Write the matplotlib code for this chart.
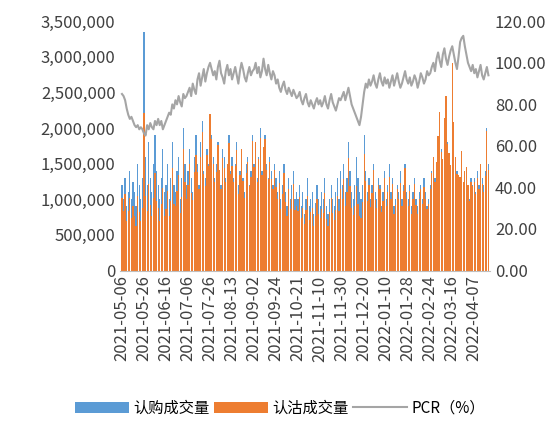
import numpy as np
import matplotlib
matplotlib.use("Agg")
import matplotlib.pyplot as plt
from matplotlib.ticker import FuncFormatter

plt.rcParams['font.family'] = ['Noto Sans CJK SC', 'DejaVu Sans']

tick_labels = ["2021-05-06", "2021-05-26", "2021-06-16", "2021-07-06", "2021-07-26",
               "2021-08-13", "2021-09-02", "2021-09-24", "2021-10-21", "2021-11-10",
               "2021-11-30", "2021-12-20", "2022-01-10", "2022-01-28", "2022-02-24",
               "2022-03-16", "2022-04-07"]

# call volume (thousands)
call_vol = [
    1200,1000,1300,900,1100,1400,1000,1250,1100,900,1500,1200,1000,1300,
    3350,1600,1200,1800,1300,1100,1500,1900,1400,1200,1000,1300,1700,1100,
    1200,1500,1000,1300,1800,1200,1100,1400,1600,1000,1300,2000,1500,1200,
    1400,1700,1300,1100,1600,1900,1500,1200,1800,2100,1400,1300,1700,1500,
    2200,1900,1600,1300,1500,1800,1400,1200,1700,1600,1300,1500,1900,1400,
    1600,1300,1500,1800,1200,1400,1700,1300,1100,1500,1600,1200,1400,1900,
    1500,1800,1300,1600,2000,1400,1700,1900,1500,1300,1600,1400,1200,1500,
    1300,1100,1400,1000,1200,1500,1100,900,1300,1000,1200,1400,1000,1100,
    1000,1200,900,1100,800,1000,1300,900,1000,1100,800,950,1200,1000,
    900,1100,1000,1300,900,800,1000,1200,1000,900,1100,1300,1000,1400,
    1200,1500,1100,1300,1800,1400,1100,1000,1200,1600,1300,1100,1000,1200,
    1900,1400,1100,1300,1000,1200,1500,1100,1000,1300,1200,900,1100,1400,
    1000,1200,1500,1100,1300,900,1000,1200,1100,1400,1000,1200,1500,1100,
    1000,1200,900,1100,1300,1000,900,1100,1200,1000,1300,1100,900,1000,
    1200,1400,1600,1300,1500,1800,2200,1700,1500,2000,2400,1800,1600,1400,
    2700,2000,1600,1400,1300,1200,1500,1100,1300,1400,1200,1000,1300,1200,
    1300,1100,1400,1200,1500,1300,1200,1400,2000,1500,
]

# put volume (thousands)
put_vol = [
    1020,840,1070,700,830,1020,740,900,770,620,1050,820,690,880,
    2210,1040,840,1220,920,760,1020,1370,980,880,700,940,1160,770,
    860,1110,760,980,1440,940,900,1120,1340,810,1030,1700,1250,1010,
    1200,1500,1090,990,1390,1620,1380,1140,1600,1950,1360,1180,1620,1470,
    2200,1840,1500,1250,1380,1760,1410,1140,1580,1440,1250,1490,1790,1360,
    1470,1240,1470,1690,1080,1340,1700,1260,1020,1370,1520,1180,1320,1820,
    1460,1800,1240,1570,1860,1340,1730,1840,1410,1290,1520,1290,1150,1410,
    1170,1010,1230,860,1070,1370,960,770,1140,860,1010,1220,850,910,
    840,1030,740,880,660,850,1050,710,820,880,620,770,1000,800,
    740,870,810,1090,720,620,820,1020,810,710,850,1040,830,1150,
    1010,1290,900,1100,1580,1180,880,780,910,1180,940,770,740,960,
    1630,1260,970,1200,890,1090,1410,990,880,1200,1140,820,980,1300,
    900,1100,1320,1000,1220,800,920,1140,1000,1230,900,1120,1440,1010,
    900,1120,800,1000,1220,920,790,1000,1140,930,1170,1010,860,940,
    1140,1370,1600,1250,1530,1890,2220,1670,1560,2140,2450,1780,1650,1480,
    2920,2080,1600,1360,1340,1320,1680,1240,1400,1460,1200,980,1250,1190,
    1240,1070,1300,1150,1490,1220,1100,1330,1960,1410,
]

pcr = [
    85,84,82,78,75,73,74,72,70,69,70,68,69,68,
    66,65,70,68,71,69,68,72,70,73,70,72,68,70,
    72,74,76,75,80,78,82,80,84,81,79,85,83,84,
    86,88,84,90,87,85,92,95,89,93,97,91,95,98,
    100,97,94,96,92,98,101,95,93,90,96,99,94,97,
    92,95,98,94,90,96,100,97,93,91,95,98,94,96,
    97,100,95,98,93,96,102,97,94,99,95,92,96,94,
    90,92,88,86,89,91,87,85,88,86,84,87,85,83,
    84,86,82,80,83,85,81,79,82,80,78,81,83,80,
    82,79,81,84,80,78,82,85,81,79,77,80,83,82,
    84,86,82,85,88,84,80,78,76,74,72,70,74,80,
    86,90,88,92,89,91,94,90,88,92,95,91,89,93,
    90,92,88,91,94,89,92,95,91,88,90,93,96,92,
    90,93,89,91,94,92,88,91,95,93,90,92,96,94,
    95,98,100,96,102,105,101,98,104,107,102,99,103,106,
    108,104,100,97,103,110,112,113,108,104,100,98,96,99,
    95,97,93,96,99,94,92,95,98,94,
]

x = np.arange(len(call_vol))
fig, ax = plt.subplots(figsize=(5.6, 4.26), dpi=100)
fig.subplots_adjust(left=0.215, right=0.875, top=0.95, bottom=0.365)

ax.bar(x, np.array(call_vol) * 1000, width=0.8, color="#5B9BD5", label="认购成交量")
ax.bar(x, np.array(put_vol) * 1000, width=0.8, color="#ED7D31", label="认沽成交量")
ax.set_ylim(0, 3500000)
ax.set_yticks(np.arange(0, 3500001, 500000))
ax.yaxis.set_major_formatter(FuncFormatter(lambda v, p: f"{int(v):,}"))
ax.set_xlim(-1, len(x))
ax.set_xticks(np.arange(len(tick_labels)) * 14)
ax.set_xticklabels(tick_labels, rotation=90)

ax2 = ax.twinx()
ax2.plot(x, pcr, color="#A5A5A5", lw=1.5, label="PCR（%）")
ax2.set_ylim(0, 120)
ax2.set_yticks(np.arange(0, 121, 20))
ax2.yaxis.set_major_formatter(FuncFormatter(lambda v, p: f"{v:.2f}"))

for a in (ax, ax2):
    for s in a.spines.values():
        s.set_visible(False)
    a.tick_params(length=0, labelsize=12, colors="#404040")
ax.spines["bottom"].set_visible(True)
ax.spines["bottom"].set_color("#BFBFBF")

h1, l1 = ax.get_legend_handles_labels()
h2, l2 = ax2.get_legend_handles_labels()
fig.legend(h1 + h2, l1 + l2, loc="lower center", ncol=3, frameon=False,
           fontsize=11, bbox_to_anchor=(0.5, -0.01), handlelength=3.5,
           columnspacing=0.3, handletextpad=0.3)

plt.savefig("out.png", dpi=100)
